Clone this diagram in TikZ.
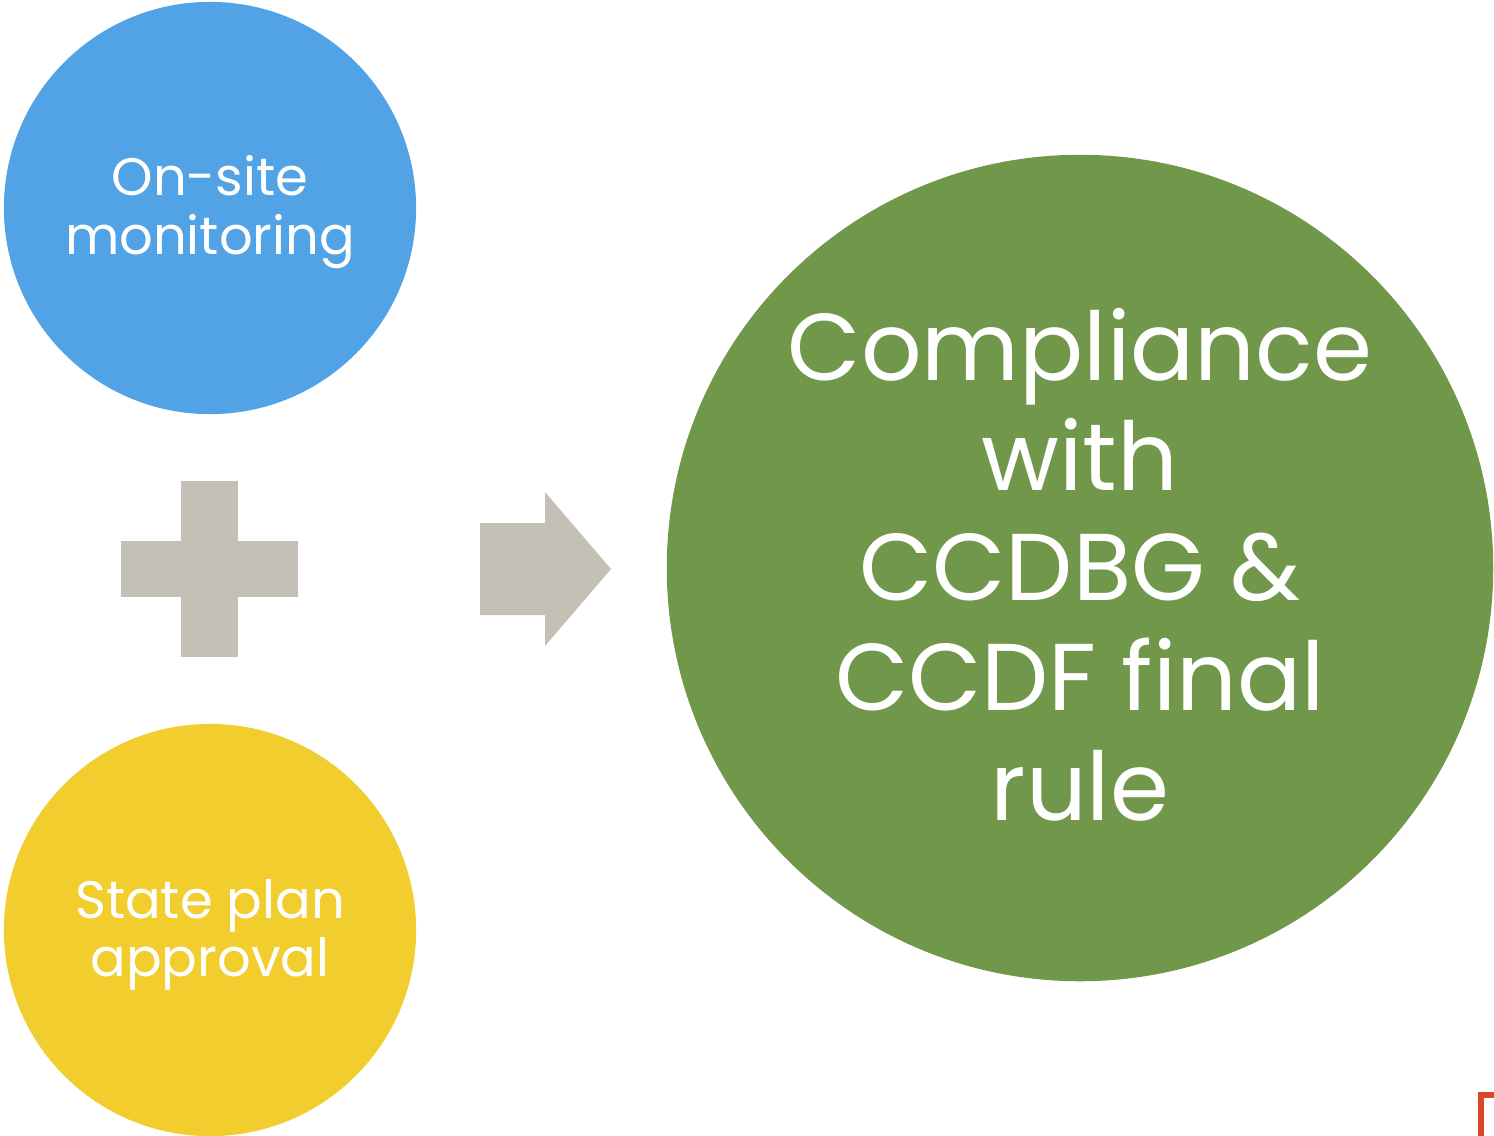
\documentclass[tikz,border=0pt]{standalone}
\usepackage{fontspec}
\setmainfont{Poppins}
\usepackage{xcolor}

\definecolor{siteblue}{HTML}{52A3E6}
\definecolor{planyellow}{HTML}{F2CD2E}
\definecolor{rulegreen}{HTML}{71974A}
\definecolor{signgray}{HTML}{C4C0B5}
\definecolor{edgered}{HTML}{D9472B}

\tikzset{
  bubble/.style={circle,draw=none,inner sep=0pt,text=white,align=center},
  sign/.style={fill=signgray,draw=none}
}

\begin{document}
\begin{tikzpicture}[x=0.01cm,y=-0.01cm]
        \useasboundingbox (0,0) rectangle (1494,1135);

        \node[bubble,fill=siteblue,minimum size=4.12cm] (site) at (210,208) {};
        \node[bubble,fill=planyellow,minimum size=4.12cm] (plan) at (210,930) {};
        \node[bubble,fill=rulegreen,minimum size=8.26cm] (rule) at (1080,568) {};

        \node[text=white,align=center,font=\fontsize{15}{17}\selectfont]
          (sitetext) at (210,212) {On-site\\monitoring};
        \node[text=white,align=center,font=\fontsize{15}{16.5}\selectfont]
          (plantext) at (210,935) {State plan\\approval};
        \node[text=white,align=center,font=\fontsize{27}{31.3}\selectfont]
          (ruletext) at (1080,565) {Compliance\\with\\CCDBG \&\\CCDF final\\rule};

        % plus sign
        \fill[sign] (181,481) rectangle (238,657);
        \fill[sign] (121,541) rectangle (298,597);

        % arrow
        \fill[sign] (480,523) -- (545,523) -- (545,492) -- (611,569)
                -- (545,646) -- (545,615) -- (480,615) -- cycle;

        % cut-off mark in the corner
        \draw[edgered,line width=1.6pt] (1494,1095) -- (1481,1095) -- (1481,1140);
      \end{tikzpicture}
\end{document}
